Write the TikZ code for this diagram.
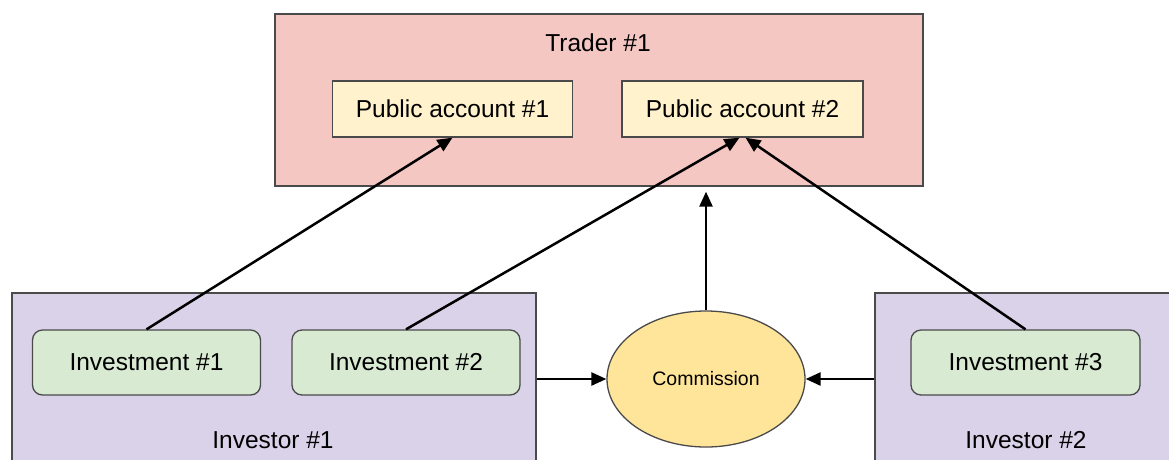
\documentclass[tikz,border=0pt]{standalone}
\usepackage{fontspec}
\setmainfont{Liberation Sans}
\usetikzlibrary{arrows.meta,shapes.geometric}

\definecolor{traderfill}{HTML}{F4C7C3}
\definecolor{accountfill}{HTML}{FFF2CC}
\definecolor{investorfill}{HTML}{D9D2E9}
\definecolor{investfill}{HTML}{D9EAD3}
\definecolor{commfill}{HTML}{FFE599}
\definecolor{edge}{HTML}{4A4A4A}

\tikzset{
  container/.style={draw=edge, line width=1.3pt, rectangle, inner sep=0pt},
  account/.style={draw=edge, line width=1.3pt, fill=accountfill, rectangle,
    inner sep=0pt, minimum height=56pt, font=\fontsize{24.5}{29}\selectfont},
  invest/.style={draw=edge, line width=1.3pt, fill=investfill, rectangle,
    rounded corners=10pt, inner sep=0pt, minimum width=228pt, minimum height=65pt,
    font=\fontsize{24.5}{29}\selectfont},
  caption/.style={inner sep=0pt, font=\fontsize{24.5}{29}\selectfont},
  flow/.style={draw=black, line width=2.5pt,
    -{Triangle[length=15pt,width=13pt]}},
}

\begin{document}
\begin{tikzpicture}[x=1pt, y=-1pt]
  \clip (0,0) rectangle (1169,459);
  \fill[white] (0,0) rectangle (1169,459);

  % Trader with its two public accounts
  \node[container, fill=traderfill, minimum width=648pt, minimum height=172pt]
    (trader) at (599,100) {};
  \node[caption] (tradername) at (598,43) {Trader \#1};
  \node[account, minimum width=240pt] (pa1) at (452.5,109) {Public account \#1};
  \node[account, minimum width=241pt] (pa2) at (742.5,109) {Public account \#2};

  % Investors and their investments
  \node[container, fill=investorfill, minimum width=524pt, minimum height=187pt]
    (investor1) at (274,386.5) {};
  \node[caption] (investor1name) at (273,440) {Investor \#1};
  \node[invest] (i1) at (146.5,362.5) {Investment \#1};
  \node[invest] (i2) at (406,362.5) {Investment \#2};

  \node[container, fill=investorfill, minimum width=304pt, minimum height=187pt]
    (investor2) at (1027,386.5) {};
  \node[caption] (investor2name) at (1026,440) {Investor \#2};
  \node[invest, minimum width=229pt] (i3) at (1025.5,362.5) {Investment \#3};

  % Commission
  \node[ellipse, draw=edge, line width=1.3pt, fill=commfill, inner sep=0pt,
    minimum width=198pt, minimum height=136pt,
    font=\fontsize{19.5}{23}\selectfont] (comm) at (706,379) {Commission};

  % Flows
  \draw[flow] (i1.north) -- (pa1.south);
  \draw[flow] (i2.north) -- ([xshift=-3pt]pa2.south);
  \draw[flow] (i3.north) -- ([xshift=3pt]pa2.south);
  \coordinate (commtop) at ([yshift=-5pt]trader.south -| comm.north);
  \draw[flow] (comm.north) -- (commtop);
  \draw[flow] (comm.west -| investor1.east) -- (comm.west);
  \draw[flow] (comm.east -| investor2.west) -- (comm.east);
\end{tikzpicture}
\end{document}
